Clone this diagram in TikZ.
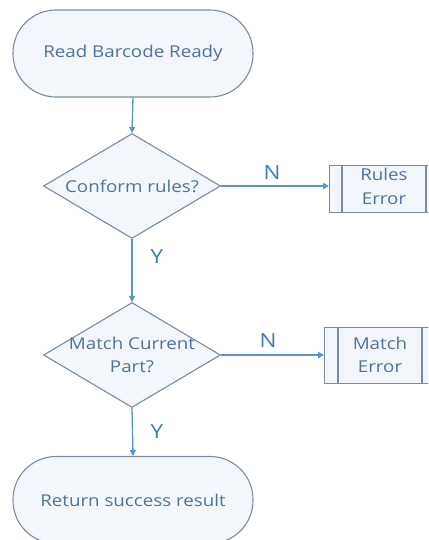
\documentclass[tikz,border=0pt]{standalone}
\usepackage{fontspec}
\setmainfont{Open Sans}[FakeStretch=1.15]
\usetikzlibrary{shapes.geometric,arrows.meta}
\definecolor{edgec}{HTML}{7A8CA0}
\definecolor{fillc}{HTML}{F3F7FC}
\definecolor{textc}{HTML}{4F7398}
\definecolor{arrowc}{HTML}{5B93C8}
\definecolor{labc}{HTML}{3F7CBE}
\tikzset{
  every node/.style={font=\fontsize{16.3}{23.5}\selectfont, text=textc},
  term/.style={draw=edgec, fill=fillc, line width=1.1pt, rectangle, rounded corners=43pt,
    minimum width=240pt, minimum height=87pt, inner sep=0pt},
  decision/.style={draw=edgec, fill=fillc, line width=1.1pt, diamond, aspect=1.676,
    minimum width=177pt, minimum height=105pt, inner sep=0pt},
  procbox/.style={draw=edgec, fill=fillc, line width=1.1pt, rectangle, inner sep=0pt, anchor=north west},
  flow/.style={draw=arrowc, line width=1.3pt, -{Triangle[length=6pt,width=6pt]}},
  yn/.style={font=\fontsize{19.5}{19.5}\selectfont, text=labc},
}
\begin{document}
\begin{tikzpicture}[x=1pt,y=-1pt]
\useasboundingbox (0,0) rectangle (428,540);
\clip (0,0) rectangle (428,540);
\fill[white] (0,0) rectangle (428,540);
% nodes
\node[term] (start) at (133,53.5) {Read Barcode Ready};
\node[decision] (d1) at (132,186) {};
\node (d1txt) at (d1) {Conform rules?};
\node[decision] (d2) at (132,355) {};
\node[align=center] (d2txt) at (d2) {Match Current\\Part?};
\node[term] (end) at (133,500) {Return success result};
% predefined process boxes
\node[procbox, minimum width=112pt, minimum height=47pt] (rules) at (329,165) {};
\draw[edgec, line width=1.1pt] (342,165) -- (342,212) (426,165) -- (426,212);
\node at (384,186.5) [align=center] (rulestxt) {Rules\\Error};
\node[procbox, minimum width=112pt, minimum height=56pt] (match) at (324,327) {};
\draw[edgec, line width=1.1pt] (338,327) -- (338,383) (422,327) -- (422,383);
\node at (380,355) [align=center] (matchtxt) {Match\\Error};
% connectors
\draw[flow] (start.south) -- (d1.north);
\draw[flow] (d1.east) -- (d1.east -| rules.west);
\draw[flow] (d1.south) -- (d2.north);
\draw[flow] (d2.east) -- (d2.east -| match.west);
\draw[flow] (d2.south) -- (end.north);
% labels
\node[yn] (n1) at (272,173) {N};
\node[yn] (y1) at (157,257) {Y};
\node[yn] (n2) at (268,341) {N};
\node[yn] (y2) at (157,432) {Y};
\end{tikzpicture}
\end{document}
